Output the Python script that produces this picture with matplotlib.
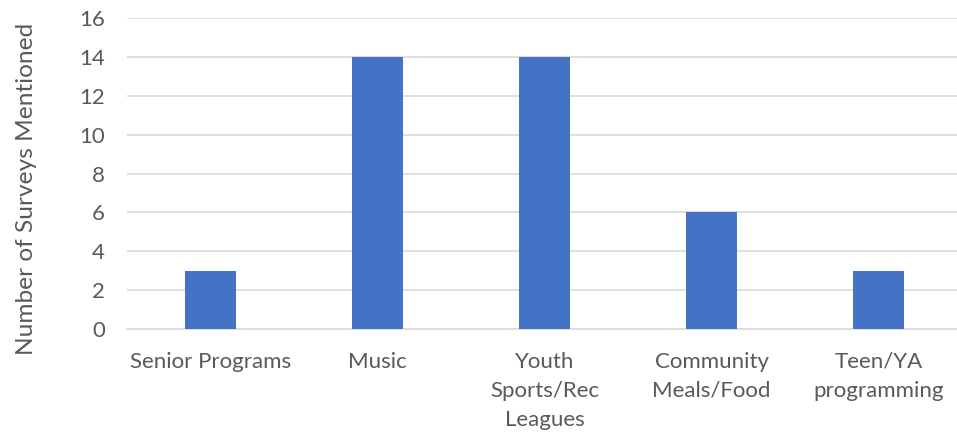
import matplotlib.pyplot as plt
import numpy as np

categories = ["Senior Programs", "Music", "Youth\nSports/Rec\nLeagues",
              "Community\nMeals/Food", "Teen/YA\nprogramming"]
counts = [3, 14, 14, 6, 3]
yticks = [0, 2, 4, 6, 8, 10, 12, 14, 16]

plt.rcParams['font.family'] = ['Lato', 'DejaVu Sans']

fig = plt.figure(figsize=(9.57, 4.34), dpi=100)
ax = fig.add_axes([127 / 957, 1 - 329 / 434, 835 / 957, 311 / 434])

x = np.arange(len(categories))
ax.bar(x, counts, width=0.31, color='#4472C4', zorder=3)

ax.set_xlim(-0.5, len(categories) - 0.5)
ax.set_ylim(0, 16)
ax.set_yticks(yticks)
ax.set_xticks(x)
ax.set_xticklabels(categories, linespacing=1.55)
ax.yaxis.grid(True, color='#D9D9D9', linewidth=1.2, zorder=0)

for side in ['top', 'right', 'left']:
    ax.spines[side].set_visible(False)
ax.spines['bottom'].set_color('#D9D9D9')
ax.spines['bottom'].set_linewidth(1.2)

ax.tick_params(axis='both', length=0, labelsize=16, colors='#595959')
ax.tick_params(axis='x', pad=16.5)
ax.tick_params(axis='y', pad=16)
ax.set_ylabel("Number of Surveys Mentioned", fontsize=17.6, color='#595959')
ax.yaxis.set_label_coords(-0.108, 0.45)

fig.savefig('out.png', dpi=100)
